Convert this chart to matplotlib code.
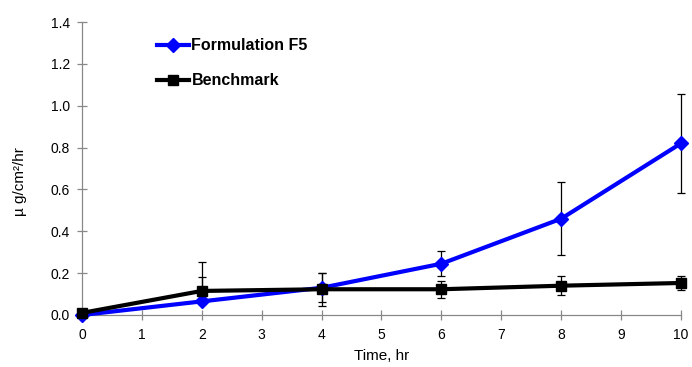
import numpy as np
import matplotlib
matplotlib.use("Agg")
import matplotlib.pyplot as plt

plt.rcParams["font.family"] = ["Liberation Sans", "DejaVu Sans"]

# --- data ---
time_hr = [0, 2, 4, 6, 8, 10]
f5_rate = [0.0, 0.065, 0.13, 0.245, 0.46, 0.82]
f5_err_low = [0.0, 0.0, 0.07, 0.06, 0.175, 0.235]
f5_err_high = [0.0, 0.115, 0.07, 0.06, 0.175, 0.235]
bench_rate = [0.01, 0.115, 0.123, 0.123, 0.14, 0.153]
bench_err_low = [0.0, 0.0, 0.08, 0.04, 0.045, 0.033]
bench_err_high = [0.0, 0.14, 0.08, 0.04, 0.045, 0.033]

fig = plt.figure(figsize=(6.92, 3.67), dpi=100)
ax = fig.add_axes([0.1185, 0.1417, 0.8655, 0.7983])

# error bars first (thin black with caps)
for rate, lo, hi in [(f5_rate, f5_err_low, f5_err_high),
                     (bench_rate, bench_err_low, bench_err_high)]:
    eb = ax.errorbar(time_hr, rate, yerr=[lo, hi], fmt="none", ecolor="black",
                     elinewidth=0.9, capsize=3, capthick=0.9, zorder=2)
    for art in eb.lines[1] + eb.lines[2]:
        art.set_clip_on(False)

ax.plot(time_hr, f5_rate, color="#0000ff", linewidth=3, marker="D",
        markersize=7, label="Formulation F5", zorder=3, clip_on=False)
ax.plot(time_hr, bench_rate, color="black", linewidth=3, marker="s",
        markersize=7, label="Benchmark", zorder=4, clip_on=False)

ax.set_xlim(0, 10)
ax.set_ylim(0, 1.4)
ax.set_xticks(np.arange(0, 11, 1))
ax.set_yticks(np.arange(0, 1.41, 0.2))
ax.set_yticklabels(["%.1f" % v for v in np.arange(0, 1.41, 0.2)])

for side in ["top", "right"]:
    ax.spines[side].set_visible(False)
for side in ["left", "bottom"]:
    ax.spines[side].set_color("#888888")
    ax.spines[side].set_linewidth(0.9)
ax.tick_params(axis="both", direction="inout", length=7, width=0.9,
               color="#888888", labelsize=10, labelcolor="black")
ax.tick_params(axis="x", pad=6)
ax.tick_params(axis="y", pad=5)

ax.set_xlabel("Time, hr", fontsize=11, labelpad=5)
ax.set_ylabel("\u00b5 g/cm\u00b2/hr", fontsize=11)
ax.yaxis.set_label_coords(-0.092, 0.457)

leg = ax.legend(loc="upper left", bbox_to_anchor=(0.112, 0.972), frameon=False,
                borderpad=0, handlelength=2.0, handletextpad=0.15,
                labelspacing=1.25, prop={"weight": "bold", "size": 11.5})

fig.savefig("out.png", dpi=100)
